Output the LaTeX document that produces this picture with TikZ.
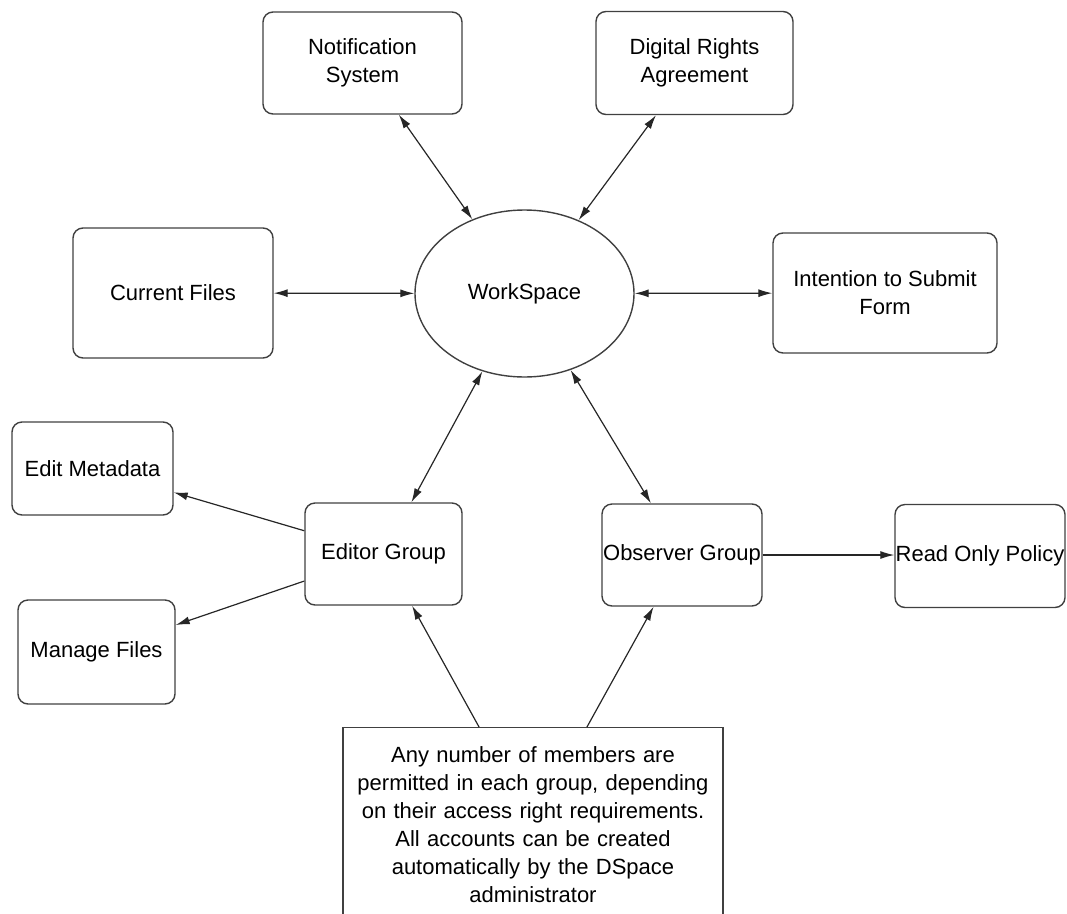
\documentclass[tikz,border=0pt]{standalone}
\usepackage{fontspec}
\setmainfont{Liberation Sans}
\usetikzlibrary{arrows.meta,shapes.geometric}

\begin{document}
\begin{tikzpicture}[x=1pt,y=-1pt,
    font=\fontsize{22}{28}\selectfont,
    every node/.style={align=center,inner sep=0pt},
    box/.style={draw=black!75,line width=1.4pt,rounded corners=10pt},
    tip/.style={-{Latex[length=14pt,width=8pt]}},
    both/.style={{Latex[length=14pt,width=8pt]}-{Latex[length=14pt,width=8pt]}},
    conn/.style={line width=1.2pt,draw=black!85}]
  \useasboundingbox (0,0) rectangle (1067,913);
  \node [box,minimum width=199pt,minimum height=102pt] (notif) at (362.5,63) {Notification\\System};
  \node [box,minimum width=197pt,minimum height=103pt] (digital) at (694.5,63) {Digital Rights\\Agreement};
  \node [box,minimum width=200pt,minimum height=130pt] (current) at (173,293) {Current Files};
  \node [draw=black!75,line width=1.4pt,ellipse,minimum width=219pt,minimum height=167pt] (ws) at (524.5,293.5) {WorkSpace};
  \node [box,minimum width=224pt,minimum height=120pt] (intent) at (885,293) {Intention to Submit\\Form};
  \node [box,minimum width=161pt,minimum height=93pt] (editmeta) at (92.5,468.5) {Edit Metadata};
  \node [box,minimum width=157pt,minimum height=102pt] (editor) at (383.5,554) {Editor Group};
  \node [box,minimum width=160pt,minimum height=102pt] (observer) at (682,555) {Observer Group};
  \node [box,minimum width=170pt,minimum height=103pt] (readonly) at (980,556) {Read Only Policy};
  \node [box,minimum width=157pt,minimum height=104pt] (manage) at (96.5,652) {Manage Files};
  \node [draw=black!75,line width=1.4pt,text width=370pt,inner xsep=5pt,inner ysep=19pt,anchor=north] (note) at (533,727)
    {Any number of members are\\permitted in each group, depending\\on their access right requirements.\\All accounts can be created\\automatically by the DSpace\\administrator};
%   links to the workspace
  \draw [conn,both] (notif) -- (ws);
  \draw [conn,both] (digital) -- (ws);
  \draw [conn,both] (current) -- (ws);
  \draw [conn,both] (ws) -- (intent);
  \draw [conn,both] (ws) -- (editor);
  \draw [conn,both] (ws) -- (observer);
  \draw [conn,tip] (editor) -- (editmeta);
  \draw [conn,tip] (editor) -- (manage);
  \draw [conn,tip] (observer.east |- 0,555) -- (readonly.west |- 0,555);
  \draw [conn,tip] (note) -- (editor);
  \draw [conn,tip] (note) -- (observer);
\end{tikzpicture}
\end{document}
